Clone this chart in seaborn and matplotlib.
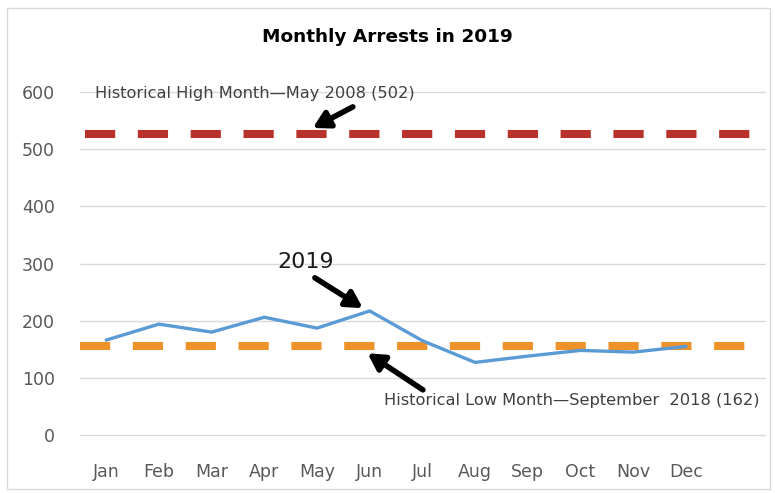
import matplotlib
matplotlib.use('Agg')
import matplotlib.pyplot as plt
import matplotlib.patches as patches
import pandas as pd
import seaborn as sns

# data
months = ['Jan', 'Feb', 'Mar', 'Apr', 'May', 'Jun', 'Jul', 'Aug', 'Sep', 'Oct', 'Nov', 'Dec']
arrests_2019 = [166, 194, 180, 206, 187, 217, 165, 127, 138, 148, 145, 155]
high_level = 526   # drawn level of the historical high line
low_level = 156    # drawn level of the historical low line
y_ticks = [0, 100, 200, 300, 400, 500, 600]

df = pd.DataFrame({'month': months, 'arrests': arrests_2019})

sns.set_theme(style='whitegrid')
plt.rcParams['font.family'] = ['DejaVu Sans']

fig = plt.figure(figsize=(7.75, 4.93), dpi=100)
ax = fig.add_axes([0.103, 0.1176, 0.884, 0.6958])

# historical high / low reference lines
ax.axhline(high_level, color='#B8312B', lw=5.8, linestyle=(5.94, (3.75, 2.81)), zorder=2)
ax.axhline(low_level, color='#F0922A', lw=5.8, linestyle=(0, (3.75, 2.81)), zorder=2)

sns.lineplot(data=df, x='month', y='arrests', ax=ax, color='#5B9BD5', lw=2.4,
             sort=False, zorder=3)

ax.set_xlim(-0.5, 12.5)
ax.set_ylim(0, 600)
ax.set_yticks(y_ticks)
ax.set_xlabel('')
ax.set_ylabel('')
ax.grid(axis='y', color='#D9D9D9', lw=1)
ax.grid(axis='x', visible=False)
for gl in ax.get_ygridlines():
    gl.set_clip_on(False)
for s in ax.spines.values():
    s.set_visible(False)
ax.tick_params(axis='y', labelsize=12.5, labelcolor='#595959', pad=18, length=0)
ax.tick_params(axis='x', labelsize=12.5, labelcolor='#595959', pad=20, length=0)

# title
fig.text(0.5, 0.925, 'Monthly Arrests in 2019', ha='center', va='center',
         fontsize=13.3, fontweight='bold', color='black')

# annotations
ax.text(-0.22, 598, 'Historical High Month\u2014May 2008 (502)', ha='left', va='center',
        fontsize=11.7, color='#404040', zorder=4)
ax.text(12.4, 61, 'Historical Low Month\u2014September  2018 (162)', ha='right', va='center',
        fontsize=11.7, color='#404040', zorder=4)
ax.text(3.79, 302, '2019', ha='center', va='center', fontsize=16, color='#1a1a1a', zorder=4)

arrow = dict(arrowstyle='-|>,head_length=0.8,head_width=0.45', lw=4, color='black',
             shrinkA=0, shrinkB=0)
ax.annotate('', xy=(3.92, 537), xytext=(4.68, 574), arrowprops=arrow, zorder=5)
ax.annotate('', xy=(4.87, 222), xytext=(3.96, 275), arrowprops=arrow, zorder=5)
ax.annotate('', xy=(4.96, 143), xytext=(6.01, 79), arrowprops=arrow, zorder=5)

# light frame round the chart
fig.patches.append(patches.Rectangle((0.009, 0.008), 0.985, 0.976, transform=fig.transFigure,
                                     fill=False, edgecolor='#D9D9D9', lw=1))

fig.savefig('out.png', dpi=100)
